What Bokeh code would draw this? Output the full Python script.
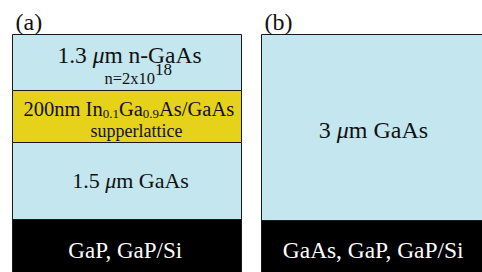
from bokeh.plotting import figure
from bokeh.models import Range1d
from bokeh.core.properties import value
from bokeh.embed import file_html
from bokeh.resources import INLINE

# ---- data: layer stacks (diagram units, top -> bottom) ----
panel_labels = ["(a)", "(b)"]

a_names = ["1.3 μm n-GaAs", "200nm In0.1Ga0.9As/GaAs supperlattice", "1.5 μm GaAs", "GaP, GaP/Si"]
a_top = [34, 90, 142, 219]
a_bottom = [90, 142, 219, 272]
a_kind = ["GaAs", "SL", "GaAs", "substrate"]

b_names = ["3 μm GaAs", "GaAs, GaP, GaP/Si"]
b_top = [34, 220]
b_bottom = [220, 272]
b_kind = ["GaAs", "substrate"]

doping = ["n=2x10", "18"]

KIND_COLOR = {"GaAs": "#c4e6ef", "SL": "#e6d21a", "substrate": "#000000"}
FONT = "Liberation Serif"
Y_SHIFT = -6  # compensates baseline placement of the svg text

# Times/Liberation Serif advance widths (per 1000 em)
W = {'0': 500, '1': 500, '2': 500, '3': 500, '5': 500, '8': 500, '9': 500, '.': 250, ' ': 250,
     ',': 250, '/': 278, '-': 333, '=': 564, 'a': 444, 'c': 444, 'e': 444, 'i': 278, 'l': 278,
     'm': 778, 'n': 500, 'p': 500, 'r': 333, 's': 389, 't': 278, 'u': 500, 'x': 500, 'A': 722,
     'G': 722, 'I': 333, 'P': 556, 'S': 556, 'μ': 500, '(': 333, ')': 333, 'b': 500}


def width(s, size):
    return sum(W.get(ch, 500) for ch in s) * size / 1000.0


p = figure(width=482, height=272, output_backend="svg", toolbar_location=None,
           x_range=Range1d(0, 482), y_range=Range1d(272, 0), min_border=0)
p.axis.visible = False
p.grid.visible = False
p.outline_line_color = None
p.background_fill_color = "white"
p.border_fill_color = "white"

# panels
p.quad(left=[12] * len(a_top), right=[241] * len(a_top), top=a_top, bottom=a_bottom,
       fill_color=[KIND_COLOR[k] for k in a_kind], line_color="#1a1a1a", line_width=1)
p.quad(left=[261] * len(b_top), right=[483] * len(b_top), top=b_top, bottom=b_bottom,
       fill_color=[KIND_COLOR[k] for k in b_kind], line_color="#1a1a1a", line_width=1)


def pieces(items, x0, y, color="#111111", center=None):
    # items: (text, size, italic, dy)
    total = sum(width(t, s) for t, s, it, dy in items)
    x = x0 if center is None else center - total / 2.0
    for t, s, it, dy in items:
        p.text(x=[x], y=[y + dy + Y_SHIFT], text=[t], text_font=value(FONT),
               text_font_size=value(f"{s}px"),
               text_font_style="italic" if it else "normal",
               text_color=color, text_align="left", text_baseline="alphabetic")
        x += width(t, s)


# panel labels
pieces([(panel_labels[0], 24, False, 0)], 15, 27)
pieces([(panel_labels[1], 24, False, 0)], 264, 27)

# panel (a)
pieces([("1.3 ", 23.5, False, 0), ("μ", 23.5, True, 0), ("m n-GaAs", 23.5, False, 0)], 0, 60, center=129)
pieces([(doping[0], 16.5, False, 0), (doping[1], 17, False, -9)], 104, 84)
pieces([("200nm In", 20.5, False, 0), ("0.1", 13, False, 5), ("Ga", 20.5, False, 0),
        ("0.9", 13, False, 5), ("As/GaAs", 20.5, False, 0)], 23, 114)
pieces([("supperlattice", 18, False, 0)], 0, 136, center=136)
pieces([("1.5 ", 22, False, 0), ("μ", 22, True, 0), ("m GaAs", 22, False, 0)], 0, 186, center=130)
pieces([(a_names[3], 23, False, 0)], 0, 256, color="white", center=126)

# panel (b)
pieces([("3 ", 24, False, 0), ("μ", 24, True, 0), ("m GaAs", 24, False, 0)], 0, 135, center=373)
pieces([(b_names[1], 23.4, False, 0)], 0, 255, color="white", center=374)

open("out.html", "w").write(file_html(p, INLINE))
